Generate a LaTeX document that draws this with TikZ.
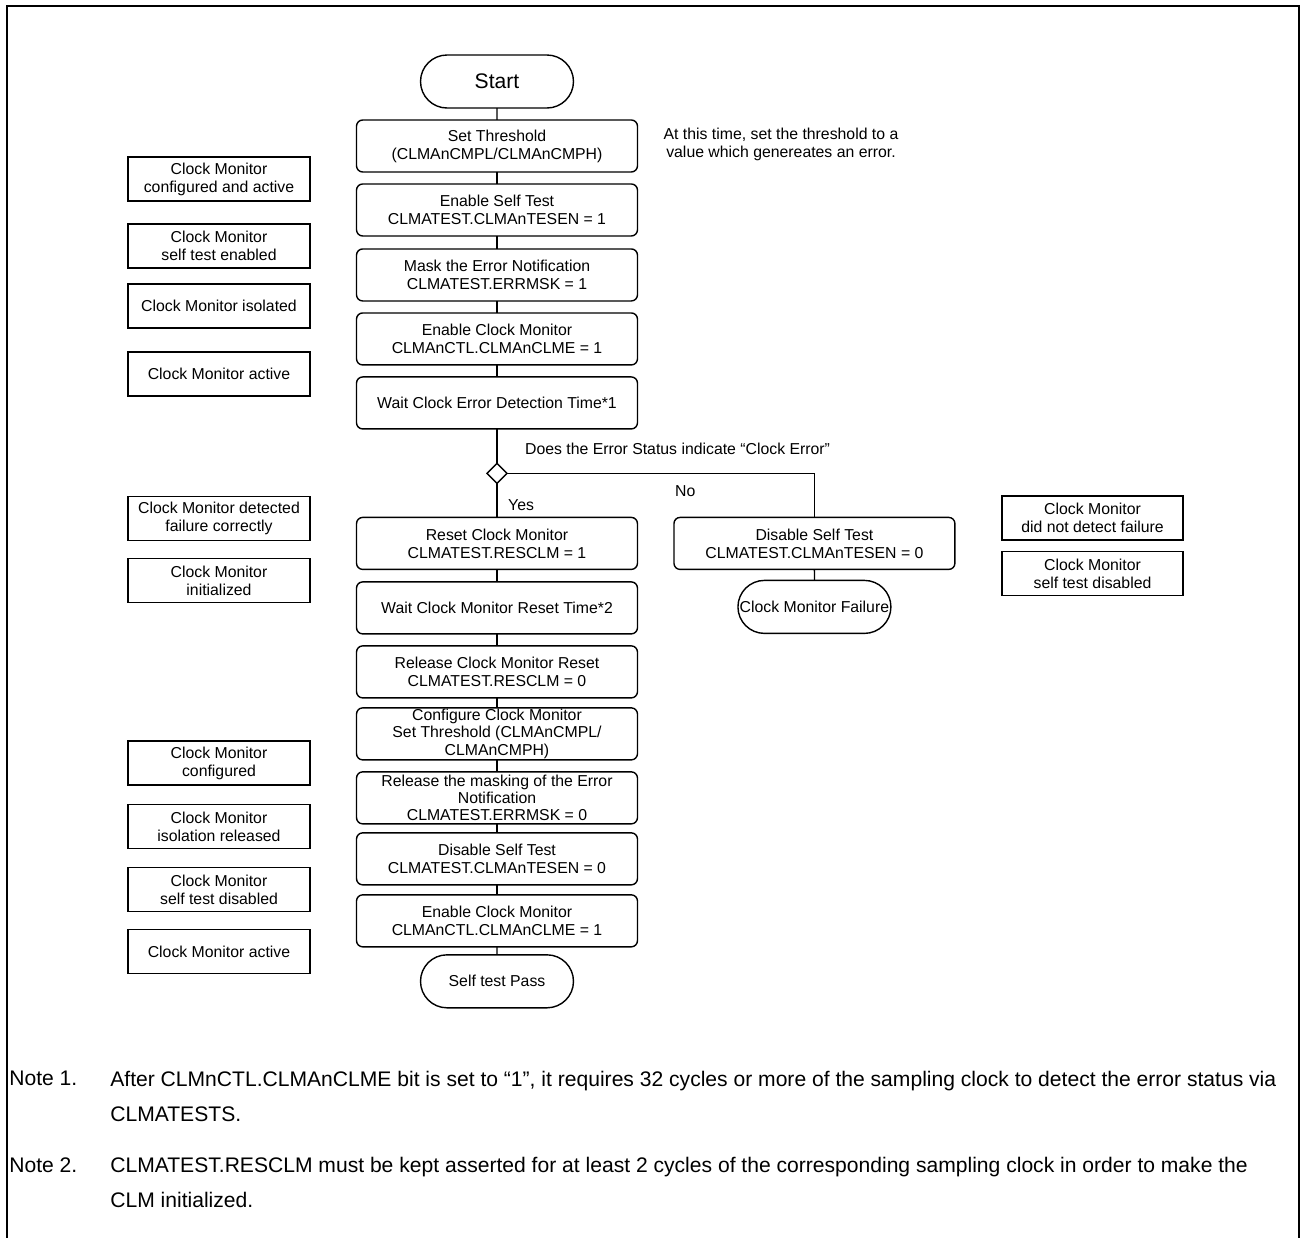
\documentclass[tikz,border=0pt]{standalone}
\usepackage{fontspec}
\setmainfont{Liberation Sans}
\usetikzlibrary{shapes.geometric, shapes.misc, positioning}
\tikzset{
  procbox/.style = {
    rectangle, rounded corners=3.5pt, draw=black, line width=0.8pt,
    minimum width=5.62cm, minimum height=1.04cm, inner xsep=1pt, inner ysep=0pt,
    outer sep=0pt, align=center, font=\fontsize{9}{10.2}\selectfont
  },
  tallbox/.style = {procbox, font=\fontsize{9}{9.7}\selectfont},
  termbox/.style = {
    rounded rectangle, draw=black, line width=0.8pt,
    minimum width=3.06cm, minimum height=1.06cm, inner sep=0pt,
    outer sep=0pt, font=\fontsize{9}{10.3}\selectfont
  },
  statebox/.style = {
    rectangle, draw=black, line width=0.8pt,
    minimum width=3.64cm, minimum height=0.88cm, inner sep=1pt,
    align=center, font=\fontsize{9}{10.3}\selectfont
  },
  testq/.style = {
    diamond, draw=black, line width=0.8pt, fill=white,
    minimum width=0.4cm, minimum height=0.4cm, inner sep=0pt, outer sep=0pt
  },
  link/.style = {line width=0.8pt},
  lbl/.style = {font=\fontsize{9}{10.3}\selectfont, inner sep=1pt},
  notetxt/.style = {font=\fontsize{12}{20}\selectfont, align=left, inner sep=0pt}
}
\begin{document}
\begin{tikzpicture}[x=0.02cm, y=-0.02cm]
\useasboundingbox (0,0) rectangle (1303,1238);

% outer frame (open at the bottom)
\draw[line width=1.4pt] (7,1238) -- (7,6) -- (1299,6) -- (1299,1238);

% ----- MAIN FLOW -----
\node[termbox, font=\fontsize{12}{14}\selectfont] (start) at (497,81.5) {Start};
\node[procbox, below=0.24cm of start] (thr)   {Set Threshold\\(CLMAnCMPL/CLMAnCMPH)};
\node[procbox, below=0.24cm of thr]   (tesen) {Enable Self Test\\CLMATEST.CLMAnTESEN = 1};
\node[procbox, below=0.26cm of tesen] (mask)  {Mask the Error Notification\\CLMATEST.ERRMSK = 1};
\node[procbox, below=0.24cm of mask]  (clme)  {Enable Clock Monitor\\CLMAnCTL.CLMAnCLME = 1};
\node[procbox, below=0.24cm of clme]  (wdet)  {Wait Clock Error Detection Time*1};
\node[testq,   below=0.69cm of wdet]  (err)   {};
\node[procbox, below=0.68cm of err]   (rst)   {Reset Clock Monitor\\CLMATEST.RESCLM = 1};
\node[procbox, below=0.25cm of rst]   (wrst)  {Wait Clock Monitor Reset Time*2};
\node[procbox, below=0.24cm of wrst]  (rrst)  {Release Clock Monitor Reset\\CLMATEST.RESCLM = 0};
\node[tallbox, below=0.20cm of rrst]  (conf)  {Configure Clock Monitor\\Set Threshold (CLMAnCMPL/\\CLMAnCMPH)};
\node[tallbox, below=0.24cm of conf]  (umask) {Release the masking of the Error\\Notification\\CLMATEST.ERRMSK = 0};
\node[procbox, below=0.18cm of umask] (tdis)  {Disable Self Test\\CLMATEST.CLMAnTESEN = 0};
\node[procbox, below=0.20cm of tdis]  (clme2) {Enable Clock Monitor\\CLMAnCTL.CLMAnCLME = 1};
\node[termbox, below=0.16cm of clme2] (pass)  {Self test Pass};

% ----- FAILURE BRANCH -----
\node[procbox, right=0.73cm of rst] (fdis) {Disable Self Test\\CLMATEST.CLMAnTESEN = 0};
\node[termbox, below=0.22cm of fdis] (fail) {Clock Monitor Failure};

% ----- NOTES AND STATES -----
\node[lbl, align=center] (hint) at (781,144) {At this time, set the threshold to a\\value which genereates an error.};
\node[lbl, anchor=west] (errq) at (523,449) {Does the Error Status indicate “Clock Error”};

\node[statebox] (s1)  at (219,179)   {Clock Monitor\\configured and active};
\node[statebox] (s2)  at (219,246)   {Clock Monitor\\self test enabled};
\node[statebox] (s3)  at (219,306)   {Clock Monitor isolated};
\node[statebox] (s4)  at (219,374)   {Clock Monitor active};
\node[statebox] (s5)  at (219,518.5) {Clock Monitor detected\\failure correctly};
\node[statebox] (s6)  at (219,580.5) {Clock Monitor\\initialized};
\node[statebox] (s7)  at (219,763)   {Clock Monitor\\configured};
\node[statebox] (s8)  at (219,826.5) {Clock Monitor\\isolation released};
\node[statebox] (s9)  at (219,889.5) {Clock Monitor\\self test disabled};
\node[statebox] (s10) at (219,951.5) {Clock Monitor active};

\node[statebox, minimum width=3.62cm] (f1) at (1092.5,518) {Clock Monitor\\did not detect failure};
\node[statebox, minimum width=3.62cm, below=0.2cm of f1] (f2) {Clock Monitor\\self test disabled};

% ----- CONNECTORS -----
\draw[link] (start) -- (thr);
\draw[link] (thr) -- (tesen);
\draw[link] (tesen) -- (mask);
\draw[link] (mask) -- (clme);
\draw[link] (clme) -- (wdet);
\draw[link] (wdet) -- (err);
% Yes --> reset
\draw[link] (err) -- node[lbl, right=5pt, pos=0.63]{Yes} (rst);
\draw[link] (rst) -- (wrst);
\draw[link] (wrst) -- (rrst);
\draw[link] (rrst) -- (conf);
\draw[link] (conf) -- (umask);
\draw[link] (umask) -- (tdis);
\draw[link] (tdis) -- (clme2);
\draw[link] (clme2) -- (pass);
% No --> failure
\draw[link] (err.east) -| node[lbl, below=5.5pt, pos=0.29]{No} (fdis.north);
\draw[link] (fdis) -- (fail);

% ----- FOOTNOTES -----
\node[notetxt, anchor=north west] (n1) at (9,1071) {Note 1.};
\node[notetxt, anchor=north west] (n1t) at (110,1071) {After CLMnCTL.CLMAnCLME bit is set to “1”, it requires 32 cycles or more of the sampling clock to detect the error status via\\CLMATESTS.};
\node[notetxt, anchor=north west] (n2) at (9,1157) {Note 2.};
\node[notetxt, anchor=north west] (n2t) at (110,1157) {CLMATEST.RESCLM must be kept asserted for at least 2 cycles of the corresponding sampling clock in order to make the\\CLM initialized.};
\end{tikzpicture}
\end{document}
